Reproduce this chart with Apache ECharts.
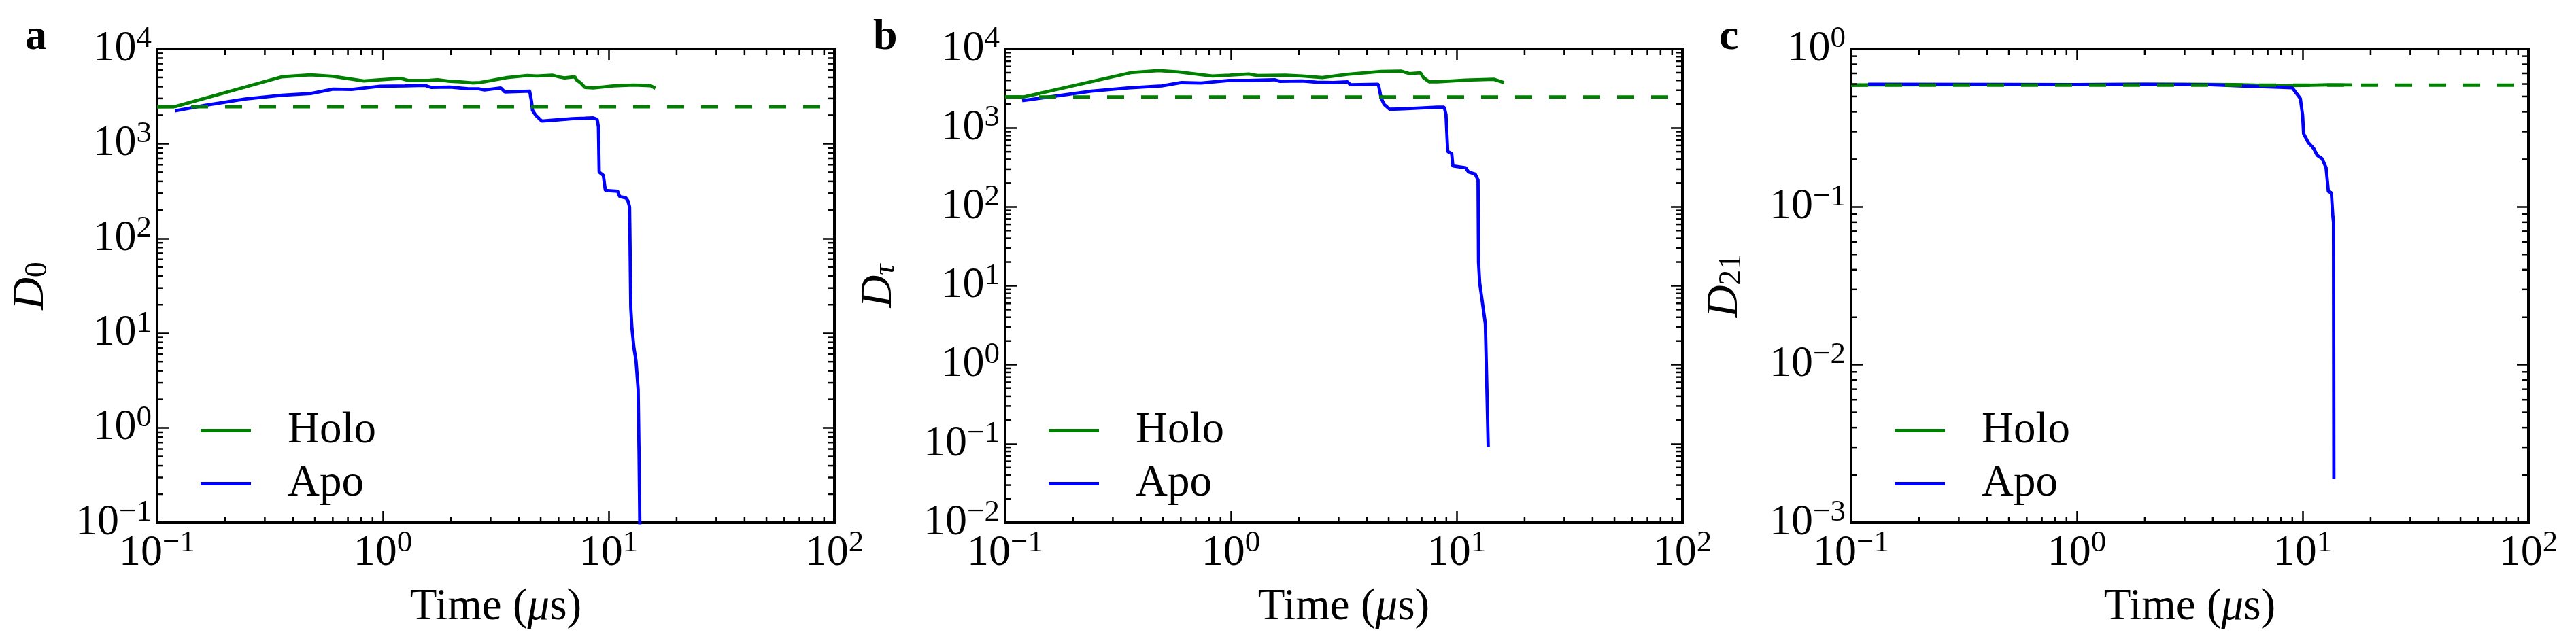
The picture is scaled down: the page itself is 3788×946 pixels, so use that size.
<!DOCTYPE html>
<html>
<head>
    <meta charset="utf-8">
    <title>D0 / Dtau / D21 vs time</title>
    <script src="https://cdn.jsdelivr.net/npm/echarts@6.0.0/dist/echarts.min.js"></script>
    <style>
        html, body { margin: 0; padding: 0; background: #ffffff; }
        #chart { width: 3788px; height: 946px; }
    </style>
</head>
<body>
<div id="chart"></div>
<script>
// ---- data: [time (us), value] ----
var holoA = [[0.1, 2450], [0.12, 2460], [0.357, 5080], [0.479, 5330], [0.602, 5130], [0.823, 4590],
    [0.973, 4730], [1.2, 4880], [1.3, 4640], [1.61, 4660], [1.75, 4720], [1.98, 4550], [2.2, 4500],
    [2.49, 4380], [2.7, 4420], [3.55, 4980], [4.37, 5240], [4.8, 5180], [5.62, 5290], [6.0, 5080],
    [6.37, 4950], [7.08, 5080], [7.22, 4700], [7.5, 4400], [7.85, 3920], [8.54, 3880], [10.5, 4080],
    [12.9, 4160], [15.3, 4100], [16.1, 3840]];
var apoA = [[0.12, 2220], [0.162, 2530], [0.246, 2965], [0.357, 3245], [0.479, 3380], [0.602, 3765],
    [0.727, 3730], [0.973, 4040], [1.25, 4075], [1.54, 4120], [1.64, 3920], [1.98, 3955], [2.39, 3800],
    [2.65, 3800], [2.82, 3690], [3.33, 3880], [3.47, 3510], [4.47, 3580], [4.56, 2735], [4.6, 2245],
    [4.76, 1990], [5.06, 1730], [5.62, 1765], [6.92, 1837], [7.85, 1855], [8.54, 1873], [8.9, 1800],
    [9.01, 1504], [9.08, 502], [9.47, 464], [9.67, 321], [10.96, 315], [11.19, 277], [11.92, 268],
    [12.17, 250], [12.38, 215], [12.43, 102], [12.53, 18.7], [12.68, 11.4], [12.95, 6.92], [13.22, 5.13],
    [13.51, 2.55], [13.63, 0.573], [13.74, 0.1], [13.78, 0.06]];
var refA = [[0.1, 2450], [100, 2450]];

var holoB = [[0.1, 2466], [0.121, 2466], [0.36, 5000], [0.479, 5310], [0.586, 5120], [0.828, 4540],
    [0.983, 4650], [1.2, 4820], [1.31, 4600], [1.75, 4650], [2.07, 4540], [2.54, 4330], [3.28, 4760],
    [4.63, 5180], [5.66, 5240], [6.18, 4870], [6.92, 4980], [7.13, 4330], [7.55, 3840], [8.22, 3840],
    [10.96, 4030], [14.6, 4130], [16.2, 3750]];
var apoB = [[0.119, 2215], [0.241, 2917], [0.35, 3210], [0.494, 3405], [0.604, 3750], [0.738, 3705],
    [0.983, 3980], [1.2, 3980], [1.56, 4075], [1.65, 3890], [2.07, 3935], [2.39, 3795], [2.84, 3750],
    [3.28, 3840], [3.38, 3530], [4.5, 3575], [4.63, 2385], [4.77, 1990], [5.05, 1722], [5.83, 1745],
    [8.22, 1830], [8.81, 1828], [8.97, 1476], [9.13, 502], [9.51, 473], [9.62, 330], [10.97, 312],
    [11.28, 277], [12.08, 261], [12.44, 218], [12.5, 19.9], [12.65, 10.9], [13.02, 6.0], [13.4, 3.3],
    [13.55, 0.89], [13.8, 0.091]];
var refB = [[0.1, 2466], [100, 2466]];

var holoC = [[0.1, 0.59], [0.12, 0.592], [1, 0.595], [3, 0.598], [5, 0.595], [8, 0.585], [10, 0.588],
    [13, 0.593], [16.6, 0.592]];
var apoC = [[0.119, 0.598], [0.5, 0.596], [1, 0.595], [2, 0.598], [3.92, 0.594], [5.47, 0.582],
    [7.84, 0.572], [9.0, 0.568], [9.12, 0.566], [9.77, 0.485], [10.0, 0.379], [10.1, 0.291],
    [10.6, 0.255], [11.2, 0.234], [11.6, 0.212], [12.2, 0.202], [12.7, 0.177], [13.0, 0.125],
    [13.4, 0.123], [13.6, 0.0885], [13.7, 0.080], [13.75, 0.0019]];
var refC = [[0.1, 0.59], [100, 0.59]];

// axis ranges and minor tick multipliers (2..9 in every decade)
var timeRange = [0.1, 100];
var minorSteps = [2, 3, 4, 5, 6, 7, 8, 9];

var FONT = 'Liberation Serif';
var GREEN = '#008000', BLUE = '#0000ff';

var panels = [
    {tag: 'a', left: 231, yMin: 0.1, yMax: 1e4, yName: '{i|D}{sub|0}', holo: holoA, apo: apoA, ref: refA},
    {tag: 'b', left: 1478, yMin: 0.01, yMax: 1e4, yName: '{i|D}{subi|\u03c4}', holo: holoB, apo: apoB, ref: refB},
    {tag: 'c', left: 2722, yMin: 0.001, yMax: 1, yName: '{i|D}{sub|21}', holo: holoC, apo: apoC, ref: refC}
];
var GRID_TOP = 72, GRID_W = 996, GRID_H = 697;

function minorTicks(lo, hi) {
    var out = [];
    for (var d = lo; d < hi * 0.999; d *= 10) {
        minorSteps.forEach(function (m) { out.push(+(d * m).toPrecision(6)); });
    }
    return out;
}

function powLabel(v) {
    var e = Math.round(Math.log10(v));
    return '{b|10}{s|' + String(e).replace('-', '\u2212') + '}';
}

var tickRich = {
    b: {fontFamily: FONT, fontSize: 64, lineHeight: 74, color: '#000'},
    s: {fontFamily: FONT, fontSize: 45, lineHeight: 45, verticalAlign: 'top', color: '#000'}
};

function tickLine(x1, y1, x2, y2) {
    return {type: 'line', shape: {x1: x1, y1: y1, x2: x2, y2: y2}, style: {stroke: '#000', lineWidth: 2.5}};
}

var grids = [], xAxes = [], yAxes = [], series = [], legends = [], titles = [];

panels.forEach(function (p, i) {
    grids.push({left: p.left, top: GRID_TOP, width: GRID_W, height: GRID_H, show: true,
        borderColor: '#000', borderWidth: 4, backgroundColor: 'transparent'});

    var tick = {show: true, inside: true, length: 17, lineStyle: {color: '#000', width: 2.5}};
    xAxes.push({
        type: 'log', logBase: 10, gridIndex: i, position: 'bottom', min: timeRange[0], max: timeRange[1],
        axisLine: {show: false}, axisTick: tick, splitLine: {show: false},
        axisLabel: {fontFamily: FONT, formatter: powLabel, rich: tickRich, margin: 8,
            showMinLabel: true, showMaxLabel: true},
        name: 'Time ({i|\u03bc}s)', nameLocation: 'middle', nameGap: 92,
        nameTextStyle: {fontFamily: FONT, fontSize: 65, color: '#000',
            rich: {i: {fontFamily: FONT, fontSize: 65, fontStyle: 'italic', color: '#000'}}}
    });
    xAxes.push({
        type: 'log', logBase: 10, gridIndex: i, position: 'top', min: timeRange[0], max: timeRange[1],
        axisLine: {show: false}, axisTick: tick, axisLabel: {show: false}, splitLine: {show: false}
    });
    yAxes.push({
        type: 'log', logBase: 10, gridIndex: i, position: 'left', min: p.yMin, max: p.yMax,
        axisLine: {show: false}, axisTick: tick, splitLine: {show: false},
        axisLabel: {fontFamily: FONT, formatter: powLabel, rich: tickRich, margin: 8,
            showMinLabel: true, showMaxLabel: true},
        name: p.yName, nameLocation: 'middle', nameRotate: 90, nameGap: 152,
        nameTextStyle: {fontFamily: FONT, fontSize: 66, color: '#000',
            rich: {
                i: {fontFamily: FONT, fontSize: 66, fontStyle: 'italic', color: '#000'},
                sub: {fontFamily: FONT, fontSize: 46, verticalAlign: 'bottom', color: '#000'},
                subi: {fontFamily: FONT, fontSize: 46, fontStyle: 'italic', verticalAlign: 'bottom', color: '#000'}
            }}
    });
    yAxes.push({
        type: 'log', logBase: 10, gridIndex: i, position: 'right', min: p.yMin, max: p.yMax,
        axisLine: {show: false}, axisTick: tick, axisLabel: {show: false}, splitLine: {show: false}
    });

    var xb = 2 * i, yl = 2 * i;

    series.push({name: 'Holo', type: 'line', xAxisIndex: xb, yAxisIndex: yl, data: p.holo,
        symbol: 'none', color: GREEN, lineStyle: {color: GREEN, width: 4.8}, z: 2, clip: true});
    series.push({name: 'Apo', type: 'line', xAxisIndex: xb, yAxisIndex: yl, data: p.apo,
        symbol: 'none', color: BLUE, lineStyle: {color: BLUE, width: 4.8}, z: 3, clip: true});
    series.push({name: 'Holo reference', type: 'line', xAxisIndex: xb, yAxisIndex: yl, data: p.ref,
        symbol: 'none', color: GREEN, lineStyle: {color: GREEN, width: 4.8, type: [25, 25]}, z: 4, silent: true});

    // minor ticks on the four spines, placed through the axis scales
    series.push({
        type: 'custom', xAxisIndex: xb, yAxisIndex: yl, silent: true, clip: false, z: 5,
        data: minorTicks(timeRange[0], timeRange[1]).map(function (t) { return [t, p.yMin]; }),
        renderItem: function (params, api) {
            var t = api.value(0);
            var b = api.coord([t, p.yMin]), top = api.coord([t, p.yMax]);
            return {type: 'group', children: [
                tickLine(b[0], b[1], b[0], b[1] - 9), tickLine(top[0], top[1], top[0], top[1] + 9)]};
        }
    });
    series.push({
        type: 'custom', xAxisIndex: xb, yAxisIndex: yl, silent: true, clip: false, z: 5,
        data: minorTicks(p.yMin, p.yMax).map(function (v) { return [timeRange[0], v]; }),
        renderItem: function (params, api) {
            var v = api.value(1);
            var l = api.coord([timeRange[0], v]), r = api.coord([timeRange[1], v]);
            return {type: 'group', children: [
                tickLine(l[0], l[1], l[0] + 9, l[1]), tickLine(r[0], r[1], r[0] - 9, r[1])]};
        }
    });

    legends.push({
        orient: 'vertical', left: p.left + 59, top: 596, data: ['Holo', 'Apo'],
        icon: 'rect', itemWidth: 74, itemHeight: 5, itemGap: 13, selectedMode: false,
        textStyle: {fontFamily: FONT, fontSize: 65, lineHeight: 58, color: '#000', padding: [0, 0, 0, 49]}
    });

    titles.push({text: p.tag, left: p.left - 199, top: 18,
        textStyle: {fontFamily: FONT, fontSize: 64, fontWeight: 'bold', color: '#000'}});
});

var chart = echarts.init(document.getElementById('chart'), null, {renderer: 'canvas'});
chart.setOption({
    animation: false,
    backgroundColor: '#ffffff',
    textStyle: {fontFamily: FONT},
    title: titles,
    legend: legends,
    grid: grids,
    xAxis: xAxes,
    yAxis: yAxes,
    series: series
});
</script>
</body>
</html>
